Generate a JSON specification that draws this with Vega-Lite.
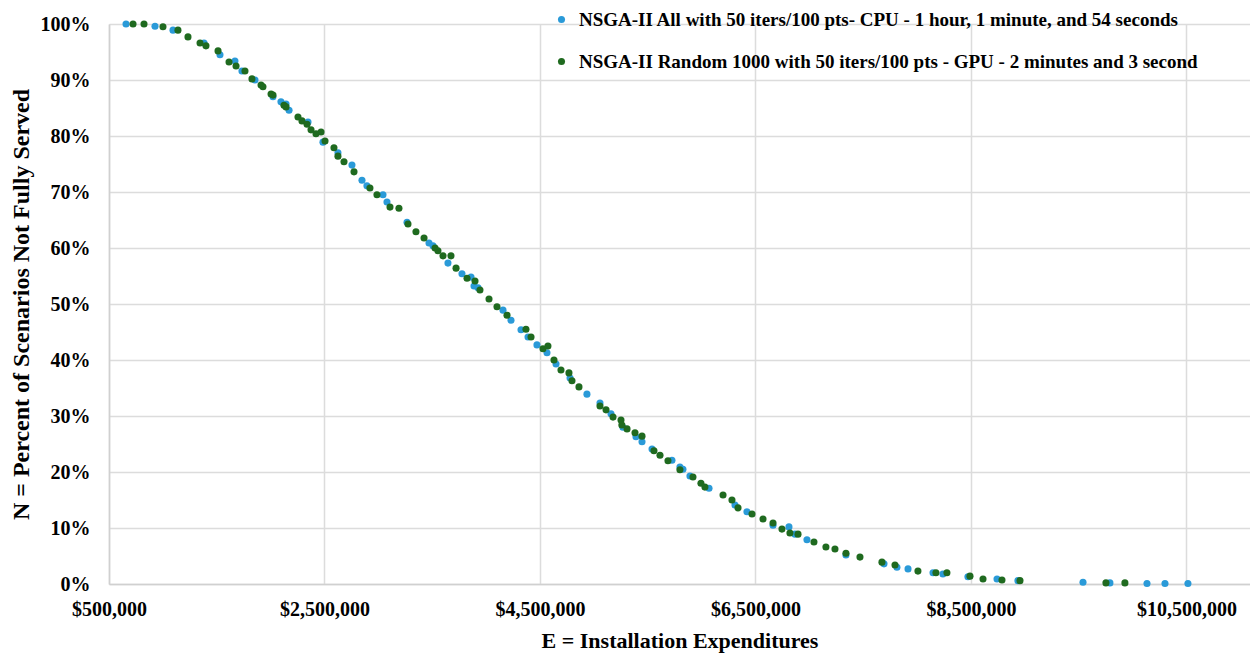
{
  "$schema": "https://vega.github.io/schema/vega-lite/v6.json",
  "width": 1141,
  "height": 560,
  "autosize": {"type": "none"},
  "padding": {"left": 109, "top": 24, "right": 0, "bottom": 71},
  "background": "white",
  "config": {
    "view": {"stroke": null},
    "font": "Liberation Serif"
  },
  "datasets": {
    "cpu": [
      {"cost": 658000, "pct": 100}, {"cost": 927000, "pct": 99.6}, {"cost": 1094000, "pct": 98.9}, {"cost": 1382000, "pct": 96.6},
      {"cost": 1530000, "pct": 94.5}, {"cost": 1669000, "pct": 93.4}, {"cost": 1734000, "pct": 91.6}, {"cost": 1855000, "pct": 90.0},
      {"cost": 2022000, "pct": 87.0}, {"cost": 2096000, "pct": 86.1}, {"cost": 2143000, "pct": 85.7}, {"cost": 2171000, "pct": 84.6},
      {"cost": 2347000, "pct": 82.5}, {"cost": 2486000, "pct": 78.9}, {"cost": 2625000, "pct": 77.0}, {"cost": 2755000, "pct": 74.8},
      {"cost": 2848000, "pct": 72.1}, {"cost": 2894000, "pct": 71.1}, {"cost": 3043000, "pct": 69.5}, {"cost": 3080000, "pct": 68.2},
      {"cost": 3266000, "pct": 64.6}, {"cost": 3470000, "pct": 60.9}, {"cost": 3507000, "pct": 60.4}, {"cost": 3646000, "pct": 57.3},
      {"cost": 3776000, "pct": 55.4}, {"cost": 3860000, "pct": 54.8}, {"cost": 3888000, "pct": 53.2}, {"cost": 3925000, "pct": 52.9},
      {"cost": 4157000, "pct": 48.9}, {"cost": 4231000, "pct": 47.1}, {"cost": 4324000, "pct": 45.4}, {"cost": 4389000, "pct": 44.1},
      {"cost": 4472000, "pct": 42.7}, {"cost": 4565000, "pct": 41.3}, {"cost": 4649000, "pct": 39.3}, {"cost": 4779000, "pct": 36.8},
      {"cost": 4936000, "pct": 33.9}, {"cost": 5057000, "pct": 32.3}, {"cost": 5159000, "pct": 30.4}, {"cost": 5270000, "pct": 28.0},
      {"cost": 5391000, "pct": 26.3}, {"cost": 5447000, "pct": 25.4}, {"cost": 5540000, "pct": 24.1}, {"cost": 5725000, "pct": 22.1},
      {"cost": 5799000, "pct": 20.9}, {"cost": 5827000, "pct": 20.5}, {"cost": 5892000, "pct": 19.3}, {"cost": 6069000, "pct": 17.1},
      {"cost": 6310000, "pct": 14.1}, {"cost": 6421000, "pct": 12.9}, {"cost": 6663000, "pct": 10.5}, {"cost": 6811000, "pct": 10.2},
      {"cost": 6867000, "pct": 8.9}, {"cost": 6978000, "pct": 7.9}, {"cost": 7340000, "pct": 5.2}, {"cost": 7693000, "pct": 3.6},
      {"cost": 7813000, "pct": 3.0}, {"cost": 7916000, "pct": 2.7}, {"cost": 8148000, "pct": 2.0}, {"cost": 8240000, "pct": 1.8},
      {"cost": 8472000, "pct": 1.3}, {"cost": 8742000, "pct": 0.9}, {"cost": 8936000, "pct": 0.6}, {"cost": 9540000, "pct": 0.3},
      {"cost": 9790000, "pct": 0.2}, {"cost": 10134000, "pct": 0.1}, {"cost": 10301000, "pct": 0.1}, {"cost": 10514000, "pct": 0.1}
    ],
    "gpu": [
      {"cost": 723000, "pct": 100}, {"cost": 825000, "pct": 100}, {"cost": 1001000, "pct": 99.5}, {"cost": 1140000, "pct": 98.9},
      {"cost": 1233000, "pct": 97.7}, {"cost": 1345000, "pct": 96.6}, {"cost": 1400000, "pct": 96.1}, {"cost": 1512000, "pct": 95.2},
      {"cost": 1614000, "pct": 93.2}, {"cost": 1679000, "pct": 92.5}, {"cost": 1762000, "pct": 91.6}, {"cost": 1827000, "pct": 90.2},
      {"cost": 1911000, "pct": 89.1}, {"cost": 1929000, "pct": 88.8}, {"cost": 2004000, "pct": 87.5}, {"cost": 2022000, "pct": 87.3},
      {"cost": 2124000, "pct": 85.5}, {"cost": 2143000, "pct": 85.2}, {"cost": 2254000, "pct": 83.4}, {"cost": 2291000, "pct": 82.7},
      {"cost": 2338000, "pct": 82.1}, {"cost": 2375000, "pct": 81.1}, {"cost": 2421000, "pct": 80.4}, {"cost": 2468000, "pct": 80.7},
      {"cost": 2505000, "pct": 79.1}, {"cost": 2588000, "pct": 77.9}, {"cost": 2625000, "pct": 76.4}, {"cost": 2681000, "pct": 75.4},
      {"cost": 2774000, "pct": 73.6}, {"cost": 2922000, "pct": 70.7}, {"cost": 2987000, "pct": 69.5}, {"cost": 3108000, "pct": 67.3},
      {"cost": 3191000, "pct": 67.1}, {"cost": 3275000, "pct": 64.3}, {"cost": 3349000, "pct": 62.9}, {"cost": 3424000, "pct": 61.8},
      {"cost": 3526000, "pct": 60.0}, {"cost": 3553000, "pct": 59.5}, {"cost": 3600000, "pct": 58.6}, {"cost": 3674000, "pct": 58.6},
      {"cost": 3721000, "pct": 56.4}, {"cost": 3823000, "pct": 54.6}, {"cost": 3897000, "pct": 54.1}, {"cost": 3943000, "pct": 52.5},
      {"cost": 4027000, "pct": 50.9}, {"cost": 4101000, "pct": 49.5}, {"cost": 4194000, "pct": 48.0}, {"cost": 4370000, "pct": 45.5},
      {"cost": 4417000, "pct": 44.1}, {"cost": 4528000, "pct": 42.0}, {"cost": 4574000, "pct": 42.5}, {"cost": 4630000, "pct": 40.0},
      {"cost": 4695000, "pct": 38.2}, {"cost": 4769000, "pct": 37.7}, {"cost": 4797000, "pct": 36.3}, {"cost": 4862000, "pct": 35.2},
      {"cost": 5057000, "pct": 31.8}, {"cost": 5113000, "pct": 31.1}, {"cost": 5178000, "pct": 29.8}, {"cost": 5252000, "pct": 29.3},
      {"cost": 5260000, "pct": 28.4}, {"cost": 5308000, "pct": 27.7}, {"cost": 5382000, "pct": 27.0}, {"cost": 5447000, "pct": 26.4},
      {"cost": 5558000, "pct": 23.8}, {"cost": 5614000, "pct": 23.0}, {"cost": 5688000, "pct": 22.0}, {"cost": 5799000, "pct": 20.4},
      {"cost": 5920000, "pct": 19.1}, {"cost": 5994000, "pct": 18.0}, {"cost": 6031000, "pct": 17.3}, {"cost": 6199000, "pct": 15.9},
      {"cost": 6282000, "pct": 15.0}, {"cost": 6338000, "pct": 13.6}, {"cost": 6468000, "pct": 12.5}, {"cost": 6570000, "pct": 11.6},
      {"cost": 6663000, "pct": 10.9}, {"cost": 6746000, "pct": 9.8}, {"cost": 6820000, "pct": 9.1}, {"cost": 6895000, "pct": 8.9},
      {"cost": 7043000, "pct": 7.5}, {"cost": 7154000, "pct": 6.6}, {"cost": 7238000, "pct": 6.25}, {"cost": 7340000, "pct": 5.5},
      {"cost": 7470000, "pct": 4.8}, {"cost": 7674000, "pct": 3.9}, {"cost": 7795000, "pct": 3.4}, {"cost": 8008000, "pct": 2.3},
      {"cost": 8175000, "pct": 2.0}, {"cost": 8277000, "pct": 2.0}, {"cost": 8491000, "pct": 1.4}, {"cost": 8612000, "pct": 0.9},
      {"cost": 8788000, "pct": 0.7}, {"cost": 8955000, "pct": 0.6}, {"cost": 9753000, "pct": 0.2}, {"cost": 9929000, "pct": 0.2}
    ]
  },
  "layer": [
    {
      "data": {"name": "cpu"},
      "transform": [{"calculate": "'NSGA-II All with 50 iters/100 pts- CPU - 1 hour, 1 minute, and 54 seconds'", "as": "series"}],
      "mark": {"type": "circle", "size": 50, "opacity": 1},
      "encoding": {
        "x": {"field": "cost", "type": "quantitative"},
        "y": {"field": "pct", "type": "quantitative"},
        "color": {"field": "series", "type": "nominal"}
      }
    },
    {
      "data": {"name": "gpu"},
      "transform": [{"calculate": "'NSGA-II Random 1000 with 50 iters/100 pts - GPU - 2 minutes and 3 second'", "as": "series"}],
      "mark": {"type": "circle", "size": 50, "opacity": 1},
      "encoding": {
        "x": {"field": "cost", "type": "quantitative"},
        "y": {"field": "pct", "type": "quantitative"},
        "color": {"field": "series", "type": "nominal"}
      }
    }
  ],
  "resolve": {"scale": {"color": "shared"}},
  "encoding": {
    "x": {
      "field": "cost", "type": "quantitative",
      "scale": {"domain": [500000, 11090000], "nice": false, "zero": false},
      "axis": {
        "title": "E = Installation Expenditures",
        "values": [500000, 2500000, 4500000, 6500000, 8500000, 10500000],
        "format": "$,.0f",
        "labelFlush": false,
        "labelFont": "Liberation Serif", "labelFontWeight": "bold", "labelFontSize": 20, "labelColor": "#000000",
        "labelPadding": 15, "ticks": false,
        "domainColor": "#d0d0d0", "domainWidth": 1.5,
        "gridColor": "#dcdcdc", "gridWidth": 1.5,
        "titleFont": "Liberation Serif", "titleFontWeight": "bold", "titleFontSize": 22, "titleColor": "#000000",
        "titleY": 63, "titleBaseline": "alphabetic", "titleAlign": "center"
      }
    },
    "y": {
      "field": "pct", "type": "quantitative",
      "scale": {"domain": [0, 100], "nice": false},
      "axis": {
        "title": "N = Percent of Scenarios Not Fully Served",
        "values": [0, 10, 20, 30, 40, 50, 60, 70, 80, 90, 100],
        "labelExpr": "datum.value + '%'",
        "labelFlush": false,
        "labelFont": "Liberation Serif", "labelFontWeight": "bold", "labelFontSize": 20, "labelColor": "#000000",
        "labelPadding": 19, "ticks": false,
        "domainColor": "#d0d0d0", "domainWidth": 1.5,
        "gridColor": "#dcdcdc", "gridWidth": 1.5,
        "titleFont": "Liberation Serif", "titleFontWeight": "bold", "titleFontSize": 24, "titleColor": "#000000",
        "titleX": -88, "titleY": 280, "titleAngle": -90, "titleBaseline": "middle", "titleAlign": "center"
      }
    },
    "color": {
      "field": "series", "type": "nominal",
      "scale": {
        "domain": ["NSGA-II All with 50 iters/100 pts- CPU - 1 hour, 1 minute, and 54 seconds", "NSGA-II Random 1000 with 50 iters/100 pts - GPU - 2 minutes and 3 second"],
        "range": ["#2a9ad8", "#1f6a1f"]
      },
      "legend": {
        "title": null,
        "orient": "none",
        "legendX": 443,
        "legendY": -14,
        "direction": "vertical",
        "symbolType": "circle",
        "symbolSize": 50,
        "symbolStrokeWidth": 0,
        "labelFont": "Liberation Serif", "labelFontWeight": "bold", "labelFontSize": 19, "labelColor": "#000000",
        "labelLimit": 800,
        "labelOffset": 8,
        "rowPadding": 22,
        "padding": 0
      }
    }
  }
}
